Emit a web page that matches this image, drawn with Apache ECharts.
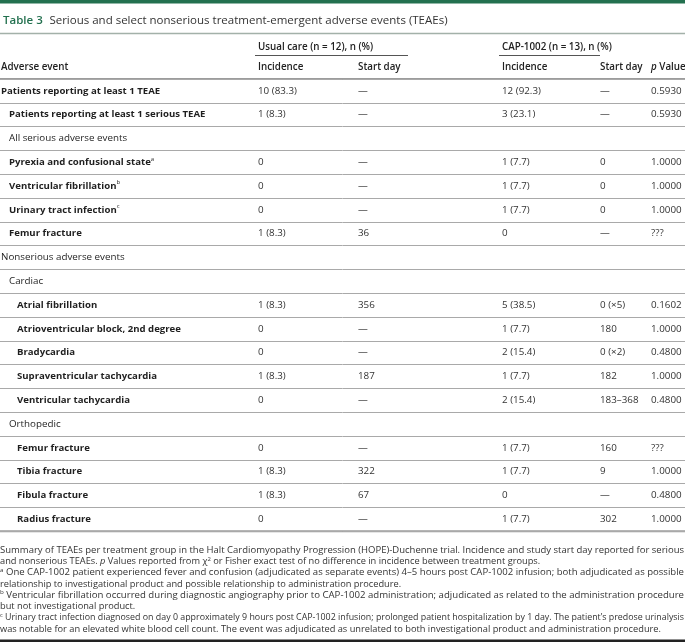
<!DOCTYPE html>
<html><head><meta charset="utf-8">
<script src="https://cdn.jsdelivr.net/npm/echarts@6/dist/echarts.min.js"></script>
<style>html,body{margin:0;padding:0;background:#fff}#c{width:685px;height:642px}</style>
</head><body><div id="c"></div>
<script>
// ---------- DATA ----------
const titleLabel = 'Table 3';
const titleText = 'Serious and select nonserious treatment-emergent adverse events (TEAEs)';
const groupHeaders = ['Usual care (n = 12), n (%)', 'CAP-1002 (n = 13), n (%)'];
const columnHeaders = ['Adverse event', 'Incidence', 'Start day', 'Incidence', 'Start day', '{i|p} Value'];
const eventNames = [
  'Patients reporting at least 1 TEAE',
  'Patients reporting at least 1 serious TEAE',
  'All serious adverse events',
  'Pyrexia and confusional state',
  'Ventricular fibrillation',
  'Urinary tract infection',
  'Femur fracture',
  'Nonserious adverse events',
  'Cardiac',
  'Atrial fibrillation',
  'Atrioventricular block, 2nd degree',
  'Bradycardia',
  'Supraventricular tachycardia',
  'Ventricular tachycardia',
  'Orthopedic',
  'Femur fracture',
  'Tibia fracture',
  'Fibula fracture',
  'Radius fracture'
];
const eventFootnoteMarks = ['', '', '', 'a', 'b', 'c', '', '', '', '', '', '', '', '', '', '', '', '', ''];
const eventLevels = [0, 1, 1, 1, 1, 1, 1, 0, 1, 2, 2, 2, 2, 2, 1, 2, 2, 2, 2];
const eventIsItem = [true, true, false, true, true, true, true, false, false, true, true, true, true, true, false, true, true, true, true];
const usualIncidence = ['10 (83.3)', '1 (8.3)', '', '0', '0', '0', '1 (8.3)', '', '', '1 (8.3)', '0', '0', '1 (8.3)', '0', '', '0', '1 (8.3)', '1 (8.3)', '0'];
const usualStartDay = ['—', '—', '', '—', '—', '—', '36', '', '', '356', '—', '—', '187', '—', '', '—', '322', '67', '—'];
const capIncidence = ['12 (92.3)', '3 (23.1)', '', '1 (7.7)', '1 (7.7)', '1 (7.7)', '0', '', '', '5 (38.5)', '1 (7.7)', '2 (15.4)', '1 (7.7)', '2 (15.4)', '', '1 (7.7)', '1 (7.7)', '0', '1 (7.7)'];
const capStartDay = ['—', '—', '', '0', '0', '0', '—', '', '', '0 (×5)', '180', '0 (×2)', '182', '183–368', '', '160', '9', '—', '302'];
const pValues = ['0.5930', '0.5930', '', '1.0000', '1.0000', '1.0000', '???', '', '', '0.1602', '1.0000', '0.4800', '1.0000', '0.4800', '', '???', '1.0000', '0.4800', '1.0000'];
const footnoteLines = [
  'Summary of TEAEs per treatment group in the Halt Cardiomyopathy Progression (HOPE)-Duchenne trial. Incidence and study start day reported for serious',
  'and nonserious TEAEs. {i|p} Values reported from χ{sup|2} or Fisher exact test of no difference in incidence between treatment groups.',
  '{sup|a} One CAP-1002 patient experienced fever and confusion (adjudicated as separate events) 4–5 hours post CAP-1002 infusion; both adjudicated as possible',
  'relationship to investigational product and possible relationship to administration procedure.',
  '{sup|b} Ventricular fibrillation occurred during diagnostic angiography prior to CAP-1002 administration; adjudicated as related to the administration procedure',
  'but not investigational product.',
  '{sup|c} Urinary tract infection diagnosed on day 0 approximately 9 hours post CAP-1002 infusion; prolonged patient hospitalization by 1 day. The patient’s predose urinalysis',
  'was notable for an elevated white blood cell count. The event was adjudicated as unrelated to both investigational product and administration procedure.'
];
const footnoteJustified = [true, false, true, false, true, false, true, false];

// ---------- LAYOUT / STYLE ----------
const W = 685;
const FONT = '"Open Sans", "Noto Sans", sans-serif';
const GREEN = '#23704f';
const colX = [1, 258, 358, 502, 600, 651];
const indentStep = 8;
const bodyTop = 79, rowH = 23.8;
const columns = [eventNames, usualIncidence, usualStartDay, capIncidence, capStartDay, pValues];

const cells = [];
eventNames.forEach((_, r) => { for (let c = 0; c < columns.length; c++) cells.push([c, r]); });

const bodyFs = 9.8;
const labelRich = {
  b: { fontFamily: FONT, fontSize: 9.6, fontWeight: 700, fill: '#1f1f1f', lineHeight: 13 },
  n: { fontFamily: FONT, fontSize: bodyFs, fontWeight: 400, fill: '#1f1f1f', lineHeight: 13 },
  sup: { fontFamily: FONT, fontSize: 6, fontWeight: 400, fill: '#1f1f1f', lineHeight: 13, verticalAlign: 'top' }
};

function renderCell(params, api) {
  const c = api.value(0), r = api.value(1);
  const txt = columns[c][r];
  if (!txt) return null;
  if (c === 0) {
    const p = api.coord([colX[0] + eventLevels[r] * indentStep, r]);
    const key = eventIsItem[r] ? 'b' : 'n';
    let t = '{' + key + '|' + txt + '}';
    if (eventFootnoteMarks[r]) t += '{sup|' + eventFootnoteMarks[r] + '}';
    return { type: 'text', x: p[0], y: p[1], style: { text: t, rich: labelRich, align: 'left', verticalAlign: 'middle' } };
  }
  const p = api.coord([colX[c], r]);
  return { type: 'text', x: p[0], y: p[1], style: { text: txt, fontFamily: FONT, fontSize: bodyFs, fill: '#333', align: 'left', verticalAlign: 'middle' } };
}

// measuring for justified footnotes
const mctx = document.createElement('canvas').getContext('2d');
const fnFs = 9.25;
const fnRich = {
  i: { fontFamily: FONT, fontSize: fnFs, fontStyle: 'italic', fill: '#333' },
  sup: { fontFamily: FONT, fontSize: 6, fill: '#333', verticalAlign: 'top', lineHeight: 11 }
};
function measureMarkup(s) {
  let w = 0, last = 0;
  const re = /\{(\w+)\|([^}]*)\}/g; let m;
  const meas = (t, st) => {
    mctx.font = (st.fontStyle || 'normal') + ' ' + (st.fontWeight || 400) + ' ' + st.fontSize + 'px ' + FONT;
    return mctx.measureText(t).width;
  };
  while ((m = re.exec(s))) {
    w += meas(s.slice(last, m.index), { fontSize: fnFs });
    w += meas(m[2], fnRich[m[1]]);
    last = re.lastIndex;
  }
  w += meas(s.slice(last), { fontSize: fnFs });
  return w;
}

const graphics = [];
graphics.push({ type: 'rect', shape: { x: 0, y: 0, width: W, height: 3.5 }, style: { fill: GREEN } });
graphics.push({ type: 'text', x: 3, y: 21, style: {
  text: '{t|' + titleLabel + '}  {s|' + titleText + '}', verticalAlign: 'middle',
  rich: { t: { fontFamily: FONT, fontSize: 11.5, fontWeight: 600, fill: GREEN }, s: { fontFamily: FONT, fontSize: 11.5, fill: '#333' } } } });
graphics.push({ type: 'line', shape: { x1: 0, y1: 33.5, x2: W, y2: 33.5 }, style: { stroke: '#a3b1a9', lineWidth: 1.5 } });
// group headers
const hdrStyle = { fontFamily: FONT, fontSize: 9.8, fontWeight: 600, fill: '#222', verticalAlign: 'middle' };
[[colX[1], colX[2] + 50], [colX[3], colX[4]]].forEach((span, gi) => {
  graphics.push({ type: 'text', x: span[0], y: 47, style: Object.assign({ text: groupHeaders[gi] }, hdrStyle) });
  graphics.push({ type: 'line', shape: { x1: span[0] - 3, y1: 55.5, x2: span[1], y2: 55.5 }, style: { stroke: '#555', lineWidth: 1 } });
});
columnHeaders.forEach((h, ci) => {
  graphics.push({ type: 'text', x: colX[ci], y: 67, style: Object.assign({ text: h, rich: { i: { fontStyle: 'italic', fontFamily: FONT, fontSize: 9.8, fontWeight: 600, fill: '#222' } } }, hdrStyle) });
});
graphics.push({ type: 'rect', shape: { x: 0, y: bodyTop - 1, width: W, height: 2 }, style: { fill: '#9c9c9c' } });
graphics.push({ type: 'rect', shape: { x: 0, y: bodyTop + rowH * eventNames.length - 1, width: W, height: 2 }, style: { fill: '#9c9c9c' } });
// footnotes
footnoteLines.forEach((line, i) => {
  const nat = measureMarkup(line);
  const sx = footnoteJustified[i] ? (W - 1) / nat : 1;
  graphics.push({ type: 'text', x: 0, y: 550 + 11.3 * i, scaleX: sx, style: {
    text: line, rich: fnRich, fontFamily: FONT, fontSize: fnFs, fill: '#333', verticalAlign: 'middle', align: 'left' } });
});
graphics.push({ type: 'rect', shape: { x: 0, y: 639.5, width: W, height: 2.5 }, style: { fill: '#222' } });

const chart = echarts.init(document.getElementById('c'), null, { renderer: 'canvas' });
chart.setOption({
  animation: false,
  grid: { left: 0, right: 0, top: bodyTop, height: rowH * eventNames.length, containLabel: false },
  xAxis: { type: 'value', min: 0, max: W, show: false },
  yAxis: {
    type: 'category', inverse: true, data: eventNames.map((_, i) => String(i)),
    axisLine: { show: false }, axisTick: { show: false }, axisLabel: { show: false },
    splitLine: { show: true, interval: 0, lineStyle: { color: '#a9a9a9', width: 1 } }
  },
  series: [{ type: 'custom', renderItem: renderCell, data: cells, clip: false, silent: true, encode: { x: 0, y: 1 } }],
  graphic: graphics
});
</script></body></html>
